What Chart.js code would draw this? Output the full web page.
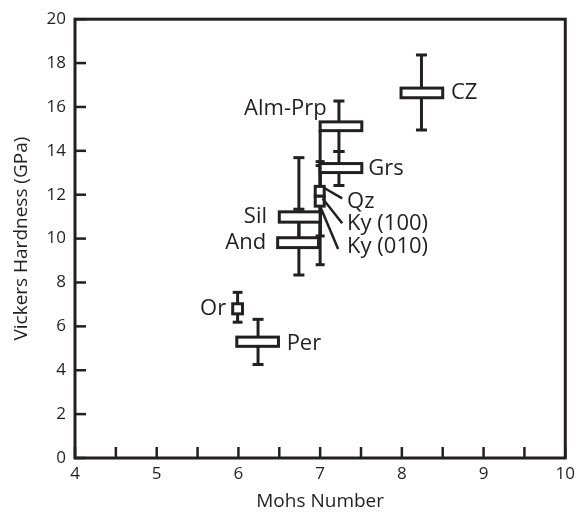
<!DOCTYPE html>
<html>
<head>
<meta charset="utf-8">
<script src="https://cdn.jsdelivr.net/npm/chart.js@4.4.0/dist/chart.umd.min.js"></script>
<style>
  html, body { margin: 0; padding: 0; background: #fff; }
  #wrap { width: 581px; height: 514px; }
</style>
</head>
<body>
<div id="wrap"><canvas id="chart"></canvas></div>
<script>
// mineral hardness data
const minerals    = ['CZ', 'Alm-Prp', 'Grs', 'Qz', 'Ky (100)', 'Ky (010)', 'Sil', 'And', 'Or', 'Per'];
const mohsCenter  = [8.24, 7.23, 7.23, 7.0, 7.0, 7.0, 6.74, 6.74, 5.99, 6.24];
const mohsLow     = [7.99, 7.0, 7.0, 6.94, 6.94, 7.0, 6.5, 6.48, 5.93, 5.98];
const mohsHigh    = [8.5, 7.51, 7.51, 7.05, 7.05, 7.0, 7.0, 6.98, 6.05, 6.49];
const hvBoxLow    = [16.42, 14.92, 13.01, 11.93, 11.48, 11.4, 10.75, 9.59, 6.57, 5.09];
const hvBoxHigh   = [16.86, 15.32, 13.42, 12.38, 11.93, 11.4, 11.22, 10.04, 7.03, 5.51];
const hvMin       = [14.95, 13.97, 12.42, 10.12, 8.81, 10.12, 10.0, 8.34, 6.19, 4.26];
const hvMax       = [18.37, 16.27, 13.97, 13.33, 13.51, 14.95, 13.69, 11.34, 7.55, 6.32];

// where each name sits (Mohs, GPa) and which side it hangs from
const labelMohs   = [8.6, 7.08, 7.59, 7.33, 7.33, 7.33, 6.35, 6.34, 5.85, 6.59];
const labelHv     = [16.64, 15.91, 13.2, 11.7, 10.66, 9.62, 10.98, 9.8, 6.81, 5.23];
const labelAlign  = ['left', 'right', 'left', 'left', 'left', 'left', 'right', 'right', 'right', 'left'];

// leader lines for the crowded Mohs 7 group
const leaderFrom  = [[7.04, 12.33], [7.03, 11.83], [7.01, 11.38]];
const leaderTo    = [[7.27, 11.83], [7.27, 10.7], [7.22, 9.53]];

const xTicks = [4, 4.5, 5, 5.5, 6, 6.5, 7, 7.5, 8, 8.5, 9, 9.5, 10];
const yTicks = [0, 2, 4, 6, 8, 10, 12, 14, 16, 18, 20];

const ink = '#231f20';
const font = '"Open Sans", "DejaVu Sans", sans-serif';

const boxPlot = {
    id: 'boxPlot',
    afterDatasetsDraw(chart) {
        const { ctx, chartArea: a } = chart;
        const x = chart.scales.x, y = chart.scales.y;
        const line = (x1, y1, x2, y2) => {
            ctx.beginPath();
            ctx.moveTo(x1, y1);
            ctx.lineTo(x2, y2);
            ctx.stroke();
        };

        ctx.save();
        ctx.strokeStyle = ink;
        ctx.lineWidth = 3;

        // whiskers first, boxes are painted over them
        minerals.forEach((m, i) => {
            const px = x.getPixelForValue(mohsCenter[i]);
            const top = y.getPixelForValue(hvMax[i]);
            const bot = y.getPixelForValue(hvMin[i]);
            const boxPx = x.getPixelForValue(mohsHigh[i]) - x.getPixelForValue(mohsLow[i]);
            const half = Math.min(5.5, boxPx / 2);
            line(px, top, px, bot);
            if (half > 0) {
                line(px - half, top, px + half, top);
                line(px - half, bot, px + half, bot);
            }
        });

        minerals.forEach((m, i) => {
            const l = x.getPixelForValue(mohsLow[i]);
            const r = x.getPixelForValue(mohsHigh[i]);
            const t = y.getPixelForValue(hvBoxHigh[i]);
            const b = y.getPixelForValue(hvBoxLow[i]);
            if (r - l < 1) return;
            ctx.fillStyle = '#fff';
            ctx.fillRect(l, t, r - l, b - t);
            ctx.strokeRect(l, t, r - l, b - t);
        });

        ctx.lineWidth = 2.5;
        leaderFrom.forEach((p, i) => {
            line(x.getPixelForValue(p[0]), y.getPixelForValue(p[1]),
                 x.getPixelForValue(leaderTo[i][0]), y.getPixelForValue(leaderTo[i][1]));
        });

        ctx.fillStyle = ink;
        ctx.font = '22px ' + font;
        ctx.textBaseline = 'middle';
        minerals.forEach((m, i) => {
            ctx.textAlign = labelAlign[i];
            ctx.fillText(m, x.getPixelForValue(labelMohs[i]), y.getPixelForValue(labelHv[i]));
        });

        // frame with inward ticks
        ctx.lineWidth = 3;
        ctx.strokeRect(a.left, a.top, a.right - a.left, a.bottom - a.top);
        ctx.lineWidth = 2.5;
        xTicks.forEach(v => {
            const px = x.getPixelForValue(v);
            line(px, a.bottom, px, a.bottom - 11);
        });
        yTicks.forEach(v => {
            const py = y.getPixelForValue(v);
            line(a.left, py, a.left + 11, py);
        });
        ctx.restore();
    }
};

new Chart(document.getElementById('chart'), {
    type: 'scatter',
    data: {
        datasets: [{
            label: 'Vickers hardness',
            data: minerals.map((m, i) => ({ x: mohsCenter[i], y: (hvBoxLow[i] + hvBoxHigh[i]) / 2 })),
            pointRadius: 0,
            pointHoverRadius: 0
        }]
    },
    options: {
        responsive: true,
        maintainAspectRatio: false,
        animation: false,
        events: [],
        layout: { padding: { top: 17, right: 9, left: 0, bottom: 0 } },
        plugins: { legend: { display: false }, tooltip: { enabled: false } },
        scales: {
            x: {
                type: 'linear',
                min: 4,
                max: 10,
                afterBuildTicks: s => { s.ticks = xTicks.map(v => ({ value: v })); },
                afterFit: s => { s.height = 56; },
                grid: { display: false, drawTicks: false },
                border: { display: false },
                ticks: {
                    padding: 6,
                    color: ink,
                    font: { family: font, size: 17 },
                    maxRotation: 0,
                    autoSkip: false,
                    callback: v => Number.isInteger(v) ? v : ''
                },
                title: {
                    display: true,
                    text: 'Mohs Number',
                    color: ink,
                    font: { family: font, size: 19 },
                    padding: { top: 0, bottom: 1 }
                }
            },
            y: {
                type: 'linear',
                min: 0,
                max: 20,
                afterBuildTicks: s => { s.ticks = yTicks.map(v => ({ value: v })); },
                afterFit: s => { s.width = 75; },
                grid: { display: false, drawTicks: false },
                border: { display: false },
                ticks: {
                    padding: 9,
                    color: ink,
                    font: { family: font, size: 17 }
                },
                title: {
                    display: true,
                    text: 'Vickers Hardness (GPa)',
                    color: ink,
                    font: { family: font, size: 19 },
                    padding: { top: 10, bottom: 0 }
                }
            }
        }
    },
    plugins: [boxPlot]
});
</script>
</body>
</html>
